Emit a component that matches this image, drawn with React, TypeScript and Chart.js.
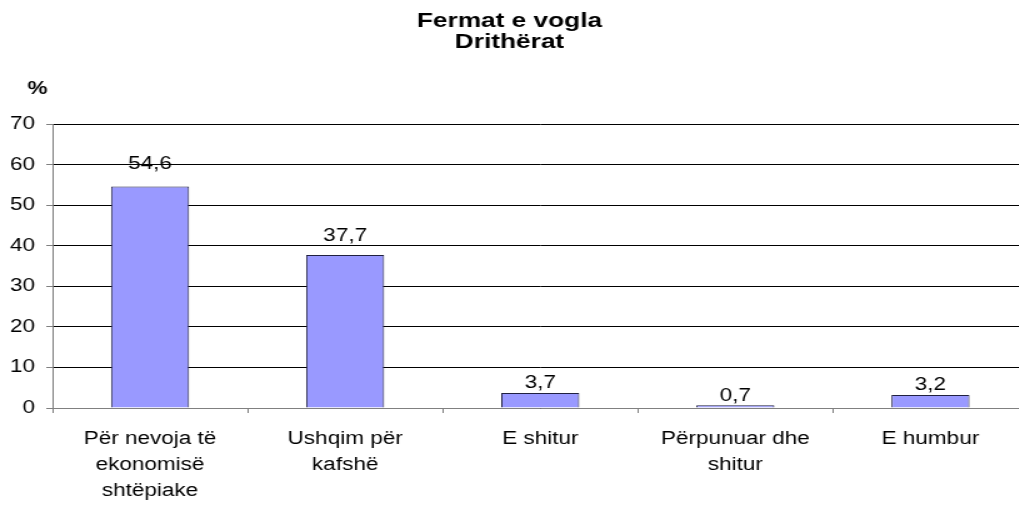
import React, { useEffect, useRef } from "react";
import { Chart, registerables } from "chart.js";

Chart.register(...registerables);

const titleLines = ["Fermat e vogla", "Drithërat"];
const yUnit = "%";
const categories: string[][] = [
  ["Për nevoja të", "ekonomisë", "shtëpiake"],
  ["Ushqim për", "kafshë"],
  ["E shitur"],
  ["Përpunuar dhe", "shitur"],
  ["E humbur"],
];
const values = [54.6, 37.7, 3.7, 0.7, 3.2];
const valueLabels = ["54,6", "37,7", "3,7", "0,7", "3,2"];

const FONT = "'Liberation Sans', Arial, Helvetica, sans-serif";
const SX = 1.25; // horizontal stretch of the reference picture
const CSS_W = 1040;
const CSS_H = 508;
const INNER_W = Math.round(CSS_W / SX);

const decorPlugin = {
  id: "decor",
  afterDatasetsDraw(chart: any) {
    const ctx = chart.ctx as CanvasRenderingContext2D;
    ctx.save();
    const meta = chart.getDatasetMeta(0);
    ctx.fillStyle = "#000";
    ctx.font = `18px ${FONT}`;
    ctx.textAlign = "center";
    ctx.textBaseline = "alphabetic";
    meta.data.forEach((el: any, i: number) => {
      const h = el.base - el.y;
      const gap = 4 + 0.063 * h;
      ctx.fillText(valueLabels[i], el.x, el.y - gap);
    });
    ctx.font = `bold 21px ${FONT}`;
    const cx = 1019 / 2 / SX;
    ctx.fillText(titleLines[0], cx, 27);
    ctx.fillText(titleLines[1], cx, 48);
    ctx.font = `bold 18px ${FONT}`;
    ctx.textAlign = "left";
    ctx.fillText(yUnit, 22, 94);
    ctx.restore();
  },
};

export default function App() {
  const ref = useRef<HTMLCanvasElement | null>(null);
  useEffect(() => {
    if (!ref.current) return;
    const chart = new Chart(ref.current, {
      type: "bar",
      data: {
        labels: categories,
        datasets: [
          {
            data: values,
            backgroundColor: "#9999FF",
            borderColor: "#202040",
            borderWidth: 1,
            barPercentage: 0.4,
            categoryPercentage: 1,
          },
        ],
      },
      options: {
        responsive: false,
        animation: false,
        devicePixelRatio: 1,
        layout: { padding: { left: -1, right: 9.6, top: 124, bottom: -9 } },
        plugins: {
          legend: { display: false },
          title: { display: false },
          tooltip: { enabled: false },
        },
        scales: {
          x: {
            offset: true,
            grid: {
              offset: true,
              drawOnChartArea: false,
              drawTicks: true,
              tickLength: 5,
              tickColor: "#808080",
            },
            border: { display: true, color: "#808080", width: 1 },
            ticks: {
              color: "#000",
              font: { family: FONT, size: 18, lineHeight: 26 / 18 },
              padding: 13,
              maxRotation: 0,
              minRotation: 0,
              autoSkip: false,
            },
          },
          y: {
            min: 0,
            max: 70,
            grid: {
              color: "#000",
              lineWidth: 1,
              drawTicks: true,
              tickLength: 5,
              tickColor: "#808080",
            },
            border: { display: true, color: "#808080", width: 1 },
            ticks: {
              stepSize: 10,
              color: "#000",
              font: { family: FONT, size: 18 },
              padding: 9,
            },
          },
        },
      },
      plugins: [decorPlugin],
    });
    return () => chart.destroy();
  }, []);
  return (
    <div style={{ position: "fixed", left: 0, top: 0, width: CSS_W, height: CSS_H, overflow: "hidden", background: "#fff" }}>
      <canvas
        ref={ref}
        width={INNER_W}
        height={CSS_H}
        style={{ width: `${CSS_W}px`, height: `${CSS_H}px`, display: "block" }}
      />
    </div>
  );
}
